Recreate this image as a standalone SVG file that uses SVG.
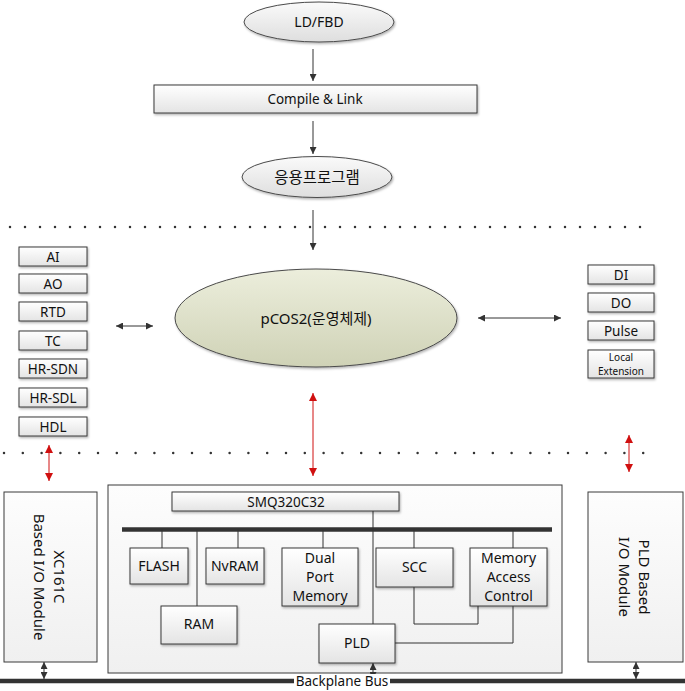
<svg xmlns="http://www.w3.org/2000/svg" width="685" height="691" viewBox="0 0 685 691">
<defs>
  <linearGradient id="gBox" x1="0" y1="0" x2="0" y2="1">
    <stop offset="0" stop-color="#ffffff"/>
    <stop offset="1" stop-color="#e4e4e4"/>
  </linearGradient>
  <linearGradient id="gBig" x1="0" y1="0" x2="0" y2="1">
    <stop offset="0" stop-color="#fdfdfd"/>
    <stop offset="1" stop-color="#f0f0f0"/>
  </linearGradient>
  <linearGradient id="gEll" x1="0" y1="0" x2="0" y2="1">
    <stop offset="0" stop-color="#fafafa"/>
    <stop offset="1" stop-color="#dedede"/>
  </linearGradient>
  <linearGradient id="gOs" x1="0" y1="0" x2="0" y2="1">
    <stop offset="0" stop-color="#eceedc"/>
    <stop offset="1" stop-color="#cfd2b6"/>
  </linearGradient>
  <filter id="sh" x="-10%" y="-10%" width="130%" height="140%">
    <feDropShadow dx="1" dy="1.5" stdDeviation="0.8" flood-color="#000" flood-opacity="0.3"/>
  </filter>
  <marker id="ah" markerUnits="userSpaceOnUse" markerWidth="7" markerHeight="7" refX="7" refY="3.5" orient="auto-start-reverse">
    <path d="M0,0 L7,3.5 L0,7 z" fill="#333"/>
  </marker>
  <marker id="ahr" markerUnits="userSpaceOnUse" markerWidth="8" markerHeight="8" refX="8" refY="4" orient="auto-start-reverse">
    <path d="M0,0 L8,4 L0,8 z" fill="#d01010"/>
  </marker>
</defs>
<style>
  text { font-family: "Noto Sans", "Noto Sans CJK KR", sans-serif; fill: #111; text-anchor: middle; }
  .box { fill: url(#gBox); stroke: #3a3a3a; stroke-width: 1; filter: url(#sh); }
  .big { fill: url(#gBig); stroke: #3a3a3a; stroke-width: 1; }
  .ell { fill: url(#gEll); stroke: #4a4a4a; stroke-width: 1; filter: url(#sh); }
  .os { fill: url(#gOs); stroke: #4a4a4a; stroke-width: 1; filter: url(#sh); }
  .t13 { font-size: 13.5px; }
  .t14 { font-size: 14px; }
  .t15 { font-size: 15px; }
  .t10 { font-size: 10px; }
  .ln { stroke: #333; stroke-width: 1; fill: none; }
  .arr { stroke: #333; stroke-width: 1; fill: none; marker-end: url(#ah); }
  .darr { stroke: #333; stroke-width: 1; fill: none; marker-start: url(#ah); marker-end: url(#ah); }
  .rarr { stroke: #d01010; stroke-width: 1; fill: none; marker-start: url(#ahr); marker-end: url(#ahr); }
  .dots { stroke: #333; stroke-width: 2.5; stroke-linecap: round; fill: none; }
  .bus { stroke: #333; stroke-width: 4.5; fill: none; }
</style>

<!-- separators -->
<line class="dots" x1="10" y1="227" x2="655" y2="227" stroke-dasharray="0 15"/>
<line class="dots" x1="4" y1="453" x2="650" y2="453" stroke-dasharray="0 18.8"/>

<!-- big containers -->
<g id="xc161c-module">
  <rect class="big" x="4" y="492" width="93" height="170"/>
  <g transform="translate(50.5,577) rotate(90)">
    <text class="t15" x="0" y="-3">XC161C</text>
    <text class="t15" x="0" y="17">Based I/O Module</text>
  </g>
</g>
<g id="cpu-board">
  <rect class="big" x="108" y="485" width="454" height="188"/>
</g>
<g id="pld-module">
  <rect class="big" x="588" y="492" width="95" height="170"/>
  <g transform="translate(635,577) rotate(90)">
    <text class="t15" x="0" y="-4">PLD Based</text>
    <text class="t15" x="0" y="16">I/O Module</text>
  </g>
</g>

<!-- connectors -->
<g id="connectors">
  <line class="arr" x1="313" y1="49" x2="313" y2="81"/>
  <line class="arr" x1="313" y1="121" x2="313" y2="154"/>
  <line class="arr" x1="313" y1="210" x2="313" y2="250"/>
  <line class="darr" x1="116" y1="326" x2="153" y2="326"/>
  <line class="darr" x1="478" y1="318" x2="561" y2="318"/>
  <line class="rarr" x1="313" y1="393" x2="313" y2="476"/>
  <line class="rarr" x1="49" y1="445" x2="49" y2="481"/>
  <line class="rarr" x1="629" y1="435" x2="629" y2="472"/>
  <!-- internal board bus -->
  <line class="bus" x1="122" y1="529.5" x2="552" y2="529.5"/>
  <line class="ln" x1="162" y1="529" x2="162" y2="548"/>
  <line class="ln" x1="197" y1="529" x2="197" y2="606"/>
  <line class="ln" x1="238" y1="529" x2="238" y2="548"/>
  <line class="ln" x1="323" y1="529" x2="323" y2="548"/>
  <line class="ln" x1="373" y1="511" x2="373" y2="624"/>
  <line class="ln" x1="414" y1="529" x2="414" y2="548"/>
  <line class="ln" x1="513" y1="529" x2="513" y2="548"/>
  <polyline class="ln" points="414,587 414,624 478,624 478,606"/>
  <polyline class="ln" points="513,606 513,643 395,643"/>
  <!-- backplane -->
  <line class="bus" x1="0" y1="681" x2="685" y2="681" stroke-width="5"/>
  <line class="darr" x1="44" y1="662" x2="44" y2="679"/>
  <line class="darr" x1="373" y1="663" x2="373" y2="679"/>
  <line class="darr" x1="636" y1="662" x2="636" y2="679"/>
</g>

<!-- top flow -->
<g id="ld-fbd">
  <ellipse class="ell" cx="319" cy="22" rx="75" ry="20"/>
  <text class="t14" x="319" y="27">LD/FBD</text>
</g>
<g id="compile-link">
  <rect class="box" x="154" y="85" width="323" height="28"/>
  <text class="t13" x="315" y="104">Compile &amp; Link</text>
</g>
<g id="app-program">
  <ellipse class="ell" cx="317" cy="177" rx="75" ry="20.5"/>
  <text x="317" y="183" style="font-size:15.5px">응용프로그램</text>
</g>
<g id="pcos2">
  <ellipse class="os" cx="316" cy="318" rx="141" ry="49"/>
  <text x="316" y="324" style="font-size:15px">pCOS2(운영체제)</text>
</g>

<!-- left IO list -->
<g id="io-ai"><rect class="box" x="19" y="247" width="68" height="19"/><text class="t13" x="53" y="261.5">AI</text></g>
<g id="io-ao"><rect class="box" x="19" y="274" width="68" height="19"/><text class="t13" x="53" y="288.5">AO</text></g>
<g id="io-rtd"><rect class="box" x="19" y="302" width="68" height="19"/><text class="t13" x="53" y="316.5">RTD</text></g>
<g id="io-tc"><rect class="box" x="19" y="331" width="68" height="19"/><text class="t13" x="53" y="345.5">TC</text></g>
<g id="io-hrsdn"><rect class="box" x="19" y="359" width="68" height="19"/><text class="t13" x="53" y="373.5">HR-SDN</text></g>
<g id="io-hrsdl"><rect class="box" x="19" y="388" width="68" height="19"/><text class="t13" x="53" y="402.5">HR-SDL</text></g>
<g id="io-hdl"><rect class="box" x="19" y="417" width="68" height="19"/><text class="t13" x="53" y="431.5">HDL</text></g>

<!-- right IO list -->
<g id="io-di"><rect class="box" x="588" y="265" width="66" height="19"/><text class="t13" x="621" y="279.5">DI</text></g>
<g id="io-do"><rect class="box" x="588" y="293" width="66" height="19"/><text class="t13" x="621" y="307.5">DO</text></g>
<g id="io-pulse"><rect class="box" x="588" y="321" width="66" height="19"/><text class="t13" x="621" y="335.5">Pulse</text></g>
<g id="io-local"><rect class="box" x="588" y="350" width="66" height="28"/><text class="t10" x="621" y="361">Local</text><text class="t10" x="621" y="375">Extension</text></g>

<!-- board components -->
<g id="smq320c32"><rect class="box" x="172" y="492" width="227" height="19"/><text class="t13" x="286" y="506.5">SMQ320C32</text></g>
<g id="flash"><rect class="box" x="130" y="548" width="58" height="36"/><text class="t14" x="159" y="571">FLASH</text></g>
<g id="nvram"><rect class="box" x="206" y="548" width="58" height="36"/><text class="t14" x="235" y="571">NvRAM</text></g>
<g id="dual-port"><rect class="box" x="282" y="548" width="76" height="58"/>
  <text class="t14" x="320" y="563">Dual</text><text class="t14" x="320" y="582">Port</text><text class="t14" x="320" y="601">Memory</text></g>
<g id="scc"><rect class="box" x="376" y="548" width="77" height="39"/><text class="t14" x="414.5" y="572">SCC</text></g>
<g id="mac"><rect class="box" x="470" y="548" width="77" height="58"/>
  <text class="t14" x="508.5" y="563">Memory</text><text class="t14" x="508.5" y="582">Access</text><text class="t14" x="508.5" y="601">Control</text></g>
<g id="ram"><rect class="box" x="161" y="606" width="76" height="38"/><text class="t14" x="199" y="629">RAM</text></g>
<g id="pld"><rect class="box" x="319" y="624" width="76" height="39"/><text class="t14" x="357" y="648">PLD</text></g>

<g id="backplane-label">
  <rect x="294" y="674" width="96" height="16" fill="#fff"/>
  <text class="t13" x="342" y="686">Backplane Bus</text>
</g>
</svg>
